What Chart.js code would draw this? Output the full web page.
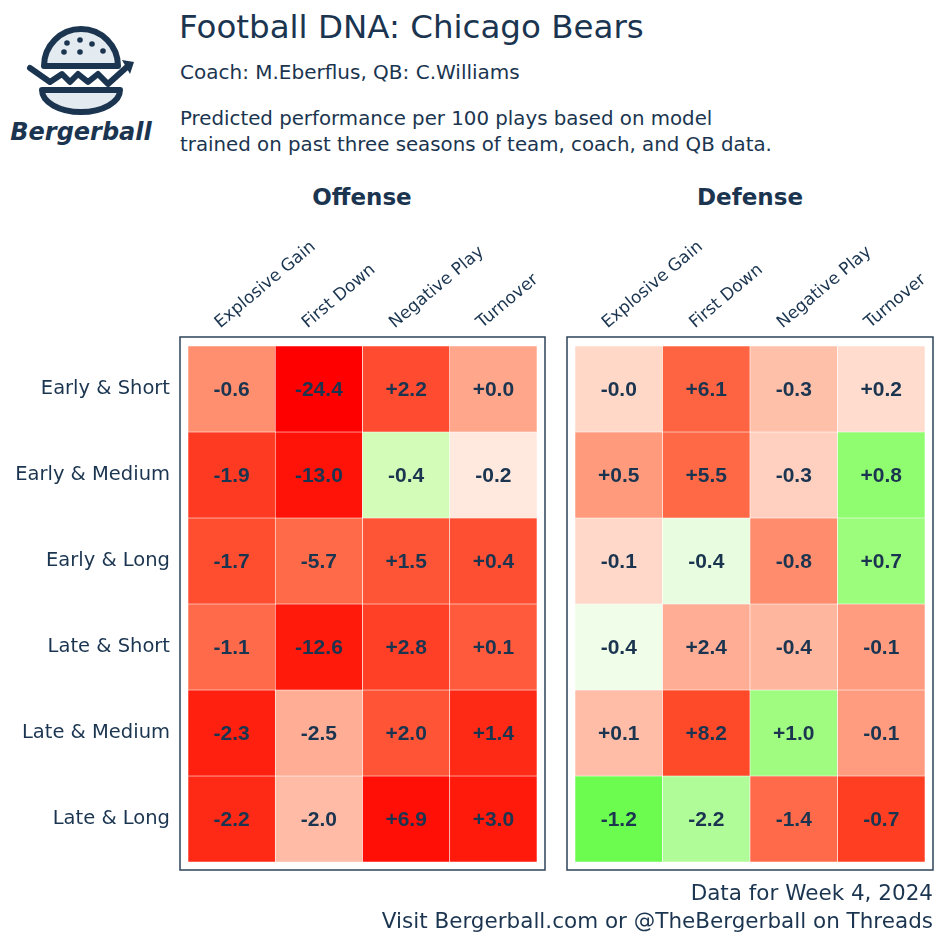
<!DOCTYPE html>
<html>
<head>
<meta charset="utf-8">
<script src="https://cdn.jsdelivr.net/npm/chart.js@4.4.1/dist/chart.umd.min.js"></script>
<style>
  body { margin: 0; background: #fff; font-family: "DejaVu Sans", sans-serif; color: #1b3550; }
  #page { position: relative; width: 950px; height: 950px; overflow: hidden; }
  .txt { position: absolute; white-space: nowrap; }
  canvas { position: absolute; }
</style>
</head>
<body>
<div id="page">
  <svg class="txt" style="left:0;top:0" width="175" height="165" viewBox="0 0 175 165">
    <g fill="none" stroke="#1b3550" stroke-width="6" stroke-linecap="round" stroke-linejoin="round">
      <path d="M44 66 A36 36 0 0 1 118 66 Z" fill="#e4ebf0"/>
      <path d="M30 68 L50 82 L62 74 L70 82 L78 74 L88 82 L98 74 L108 84 L128 66"/>
      <path d="M42 90 L120 90 A39 22 0 0 1 42 90 Z" fill="#e4ebf0"/>
    </g>
    <path d="M122 60 L134 62 L130 74 Z" fill="#1b3550"/>
    <g fill="#1b3550">
      <circle cx="64" cy="52" r="2.8"/><circle cx="80" cy="40" r="2.8"/><circle cx="92" cy="44" r="2.8"/>
      <circle cx="80" cy="52" r="2.8"/><circle cx="103" cy="51" r="2.8"/><circle cx="67" cy="43" r="2.8"/>
    </g>
    <text x="81" y="140" text-anchor="middle" font-family="DejaVu Sans" font-style="italic" font-weight="bold" font-size="24" fill="#1b3550">Bergerball</text>
  </svg>

  <div class="txt" style="left:179px;top:8px;font-size:32.5px;">Football DNA: Chicago Bears</div>
  <div class="txt" style="left:180px;top:60px;font-size:20px;">Coach: M.Eberflus, QB: C.Williams</div>
  <div class="txt" style="left:180px;top:106px;font-size:19.8px;line-height:26px;">Predicted performance per 100 plays based on model<br>trained on past three seasons of team, coach, and QB data.</div>

  <div class="txt" style="left:362px;top:184px;font-size:23px;font-weight:bold;transform:translateX(-50%);">Offense</div>
  <div class="txt" style="left:750px;top:184px;font-size:23px;font-weight:bold;transform:translateX(-50%);">Defense</div>

  <canvas id="offense" width="560" height="710" style="left:0;top:170px;width:560px;height:710px;"></canvas>
  <canvas id="defense" width="390" height="710" style="left:560px;top:170px;width:390px;height:710px;"></canvas>

  <div class="txt" style="right:17px;top:879px;font-size:21.5px;line-height:28px;text-align:right;">Data for Week 4, 2024<br>Visit Bergerball.com or @TheBergerball on Threads</div>
</div>

<script>
var columns = ['Explosive Gain', 'First Down', 'Negative Play', 'Turnover'];
var rows = ['Early & Short', 'Early & Medium', 'Early & Long', 'Late & Short', 'Late & Medium', 'Late & Long'];

var offenseValues = [
    [-0.6, -24.4, 2.2, 0.0],
    [-1.9, -13.0, -0.4, -0.2],
    [-1.7, -5.7, 1.5, 0.4],
    [-1.1, -12.6, 2.8, 0.1],
    [-2.3, -2.5, 2.0, 1.4],
    [-2.2, -2.0, 6.9, 3.0]
];
var defenseValues = [
    [-0.0, 6.1, -0.3, 0.2],
    [0.5, 5.5, -0.3, 0.8],
    [-0.1, -0.4, -0.8, 0.7],
    [-0.4, 2.4, -0.4, -0.1],
    [0.1, 8.2, 1.0, -0.1],
    [-1.2, -2.2, -1.4, -0.7]
];

// cell shading as it appears in the picture
var offenseColors = [
    ['#ff8f6e', '#ff0000', '#ff4b30', '#ffa68b'],
    ['#ff3a22', '#ff1208', '#d2fcb8', '#ffe8de'],
    ['#ff4d30', '#ff6a48', '#ff5537', '#ff4f32'],
    ['#ff6a4a', '#ff1a0c', '#ff4027', '#ff5a3c'],
    ['#ff2010', '#ffae95', '#ff5536', '#ff2a16'],
    ['#ff2a16', '#ffbba5', '#ff0f06', '#ff1a0c']
];
var defenseColors = [
    ['#ffd8c8', '#ff6442', '#ffc0aa', '#ffdccd'],
    ['#ff9a7c', '#ff6946', '#ffd0c0', '#90fc70'],
    ['#ffd8c9', '#e8fde0', '#ff8c6c', '#9cfc7c'],
    ['#f0fde8', '#ffae95', '#ffb69e', '#ff9c80'],
    ['#ffbca6', '#ff4a2a', '#a0fc80', '#ff9c80'],
    ['#6cfc50', '#b0fc98', '#ff6a4a', '#ff3e22']
];

var navy = '#1b3550';

function fmt(v) {
    if (v < 0 || Object.is(v, -0)) return '-' + Math.abs(v).toFixed(1);
    return '+' + v.toFixed(1);
}

var cellText = {
    id: 'cellText',
    beforeDraw: function (chart) {
        var a = chart.chartArea, c = chart.ctx;
        c.save();
        c.strokeStyle = '#2c4358';
        c.lineWidth = 1.5;
        c.strokeRect(a.left - 8, a.top - 9, a.right - a.left + 16, a.bottom - a.top + 17);
        c.restore();
    },
    afterDatasetsDraw: function (chart) {
        var c = chart.ctx;
        var vals = chart.options.plugins.cellText.values;
        c.save();
        c.font = 'bold 21px "Liberation Sans", Arial, sans-serif';
        c.fillStyle = navy;
        c.textAlign = 'center';
        c.textBaseline = 'middle';
        chart.data.datasets.forEach(function (ds, i) {
            chart.getDatasetMeta(i).data.forEach(function (bar, j) {
                var p = bar.getCenterPoint();
                c.fillText(fmt(vals[i][j]), p.x, p.y + 1);
            });
        });
        c.restore();
    }
};

function makeChart(id, values, colors, showRows, pad) {
    var datasets = rows.map(function (r, i) {
        return {
            label: r,
            data: columns.map(function () { return [i, i + 1]; }),
            backgroundColor: colors[i],
            borderColor: 'rgba(255,255,255,0.85)',
            borderWidth: 0.6,
            borderSkipped: false,
            barPercentage: 1,
            categoryPercentage: 1,
            grouped: false
        };
    });
    return new Chart(document.getElementById(id).getContext('2d'), {
        type: 'bar',
        data: { labels: columns, datasets: datasets },
        plugins: [cellText],
        options: {
            responsive: false,
            animation: false,
            layout: { padding: pad },
            plugins: {
                legend: { display: false },
                tooltip: { enabled: false },
                cellText: { values: values }
            },
            scales: {
                x: {
                    position: 'top',
                    grid: { display: false, drawTicks: false },
                    border: { display: false },
                    ticks: {
                        minRotation: 40, maxRotation: 40,
                        padding: 13,
                        labelOffset: -1,
                        color: navy,
                        font: { family: '"DejaVu Sans", sans-serif', size: 17 }
                    },
                    afterFit: function (s) {
                        s.height = 176;
                        s.paddingLeft = 0;
                        s.paddingRight = 0;
                    }
                },
                y: {
                    display: showRows,
                    min: 0, max: 6,
                    reverse: true,
                    grid: { display: false, drawTicks: false },
                    border: { display: false },
                    afterBuildTicks: function (s) {
                        s.ticks = rows.map(function (r, i) { return { value: i + 0.5 }; });
                    },
                    ticks: {
                        padding: 18,
                        color: navy,
                        font: { family: '"DejaVu Sans", sans-serif', size: 19.5 },
                        callback: function (v) { return rows[Math.floor(v)]; }
                    },
                    afterFit: function (s) {
                        if (showRows) s.width = 188;
                        s.paddingTop = 0;
                        s.paddingBottom = 0;
                    }
                }
            }
        }
    });
}

makeChart('offense', offenseValues, offenseColors, true, { left: 0, right: 23, top: 0, bottom: 18 });
makeChart('defense', defenseValues, defenseColors, false, { left: 15, right: 25, top: 0, bottom: 18 });
</script>
</body>
</html>
